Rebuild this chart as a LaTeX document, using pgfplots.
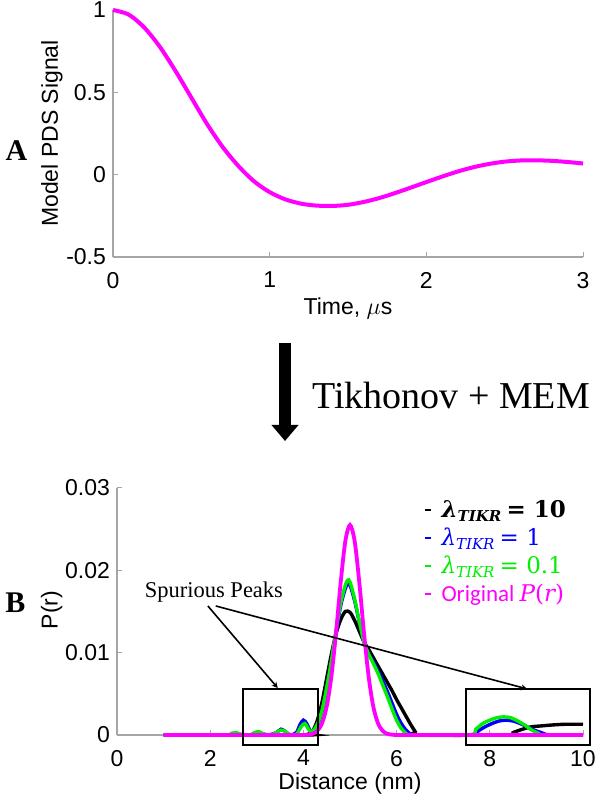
\documentclass[border=0pt]{standalone}
\usepackage{pgfplots}
\pgfplotsset{compat=1.18}
\usepackage{fontspec}
\setmainfont{Liberation Serif}
\setsansfont{Liberation Sans}
\newfontfamily\calibri{Carlito}
\newfontfamily\cmath{DejaVu Serif}
\usetikzlibrary{arrows.meta}

\definecolor{axgray}{RGB}{165,165,165}
\definecolor{mag}{RGB}{255,0,255}
\definecolor{grn}{RGB}{0,240,0}
\definecolor{blu}{RGB}{0,0,255}

% lambda_TIKR written in a Cambria-like serif
\newcommand{\lamt}{{\cmath\itshape λ}\raisebox{-0.4ex}{\cmath\itshape\fontsize{7.5}{8}\selectfont TIKR}}

\pgfplotsset{
  mlab/.style={
    scale only axis,
    axis lines=left,
    axis line style={draw=axgray, line width=0.6pt, -},
    tick align=inside,
    major tick length=2.5pt,
    tick style={draw=axgray, line width=0.5pt},
    tick label style={font=\sffamily\fontsize{11.5}{13}\selectfont},
    xticklabel style={yshift=-4pt},
    label style={font=\sffamily\fontsize{11.5}{13}\selectfont},
    clip=false,
  }
}

\pgfplotstableread{
t V
0.0 1.000
0.1 0.972
0.2 0.893
0.3 0.775
0.4 0.628
0.5 0.468
0.6 0.308
0.7 0.168
0.8 0.053
0.9 -0.040
1.0 -0.106
1.1 -0.150
1.2 -0.176
1.3 -0.188
1.4 -0.190
1.5 -0.183
1.6 -0.166
1.7 -0.142
1.8 -0.112
1.9 -0.079
2.0 -0.045
2.1 -0.012
2.2 0.019
2.3 0.045
2.4 0.065
2.5 0.079
2.6 0.086
2.7 0.087
2.8 0.084
2.9 0.077
3.0 0.068
}\signal

\pgfplotstableread{
r P
1.0 0
2.3 0
2.45 0.0001
2.55 0.0002
2.7 0
2.9 0
3.0 0.0003
3.1 0.0002
3.25 0
3.42 0.0003
3.52 0.0007
3.62 0.0004
3.72 0
3.85 0.0003
3.93 0.0013
4.0 0.0018
4.07 0.0014
4.14 0.0006
4.2 0.0005
4.3 0.0012
4.4 0.0029
4.5 0.0056
4.6 0.0088
4.7 0.0124
4.8 0.0157
4.9 0.0178
4.95 0.0183
5.0 0.0182
5.1 0.0163
5.2 0.0137
5.3 0.0113
5.4 0.0099
5.5 0.0089
5.6 0.0078
5.7 0.0066
5.8 0.0053
5.9 0.0039
6.0 0.0025
6.1 0.0014
6.2 0.0006
6.3 0.0001
6.37 0
7.6 0
7.75 0.0005
7.9 0.0010
8.05 0.0014
8.2 0.0017
8.35 0.0018
8.5 0.0017
8.65 0.0014
8.8 0.0010
8.95 0.0006
9.1 0.0003
9.3 0
10 0
}\lamone

\pgfplotstableread{
r P
1.0 0
2.3 0
2.45 0.0002
2.55 0.0003
2.7 0
2.85 0
2.95 0.0003
3.05 0.0004
3.15 0.0001
3.3 0
3.42 0.0003
3.52 0.0006
3.62 0.0004
3.72 0
3.85 0.0001
3.95 0.0010
4.03 0.0014
4.1 0.0008
4.16 0.0004
4.22 0.0006
4.3 0.0013
4.4 0.0030
4.5 0.0058
4.6 0.0090
4.7 0.0127
4.8 0.0160
4.9 0.0182
4.95 0.0188
5.0 0.0186
5.1 0.0165
5.2 0.0138
5.3 0.0113
5.4 0.0098
5.5 0.0087
5.6 0.0075
5.7 0.0061
5.8 0.0047
5.9 0.0032
6.0 0.0018
6.1 0.0008
6.2 0.0002
6.3 0
7.55 0
7.7 0.0007
7.85 0.0014
8.0 0.0018
8.15 0.0021
8.3 0.0022
8.45 0.0021
8.6 0.0017
8.75 0.0012
8.9 0.0006
9.05 0.0002
9.15 0
10 0
}\lampone

\pgfplotstableread{
r P
1.0 0
4.0 0
4.1 0.0001
4.2 0.0005
4.3 0.0018
4.4 0.0040
4.5 0.0069
4.6 0.0098
4.7 0.0123
4.8 0.0140
4.9 0.0150
5.0 0.0149
5.1 0.0139
5.2 0.0126
5.3 0.0113
5.4 0.0104
5.5 0.0094
5.6 0.0084
5.7 0.0074
5.8 0.0064
5.9 0.0054
6.0 0.0043
6.1 0.0033
6.2 0.0023
6.3 0.0013
6.4 0.0004
6.45 0
8.35 0
8.5 0.0003
8.7 0.0007
8.9 0.0010
9.1 0.0011
9.3 0.0012
9.6 0.0013
10 0.0013
}\lamten

\pgfplotstableread{
r P
1.0 0
3.8 0
3.9 0
4.0 0
4.1 0.00004
4.2 0.00015
4.3 0.00051
4.4 0.00143
4.5 0.00345
4.6 0.00709
4.7 0.01241
4.8 0.01852
4.9 0.02354
5.0 0.0255
5.1 0.02354
5.2 0.01852
5.3 0.01241
5.4 0.00709
5.5 0.00345
5.6 0.00143
5.7 0.00051
5.8 0.00015
5.9 0.00004
6.0 0
6.1 0
6.2 0
10 0
}\orig

\begin{document}
\begin{tikzpicture}
\useasboundingbox (0,0) rectangle (300pt,401.5pt);

% panel A
\begin{axis}[mlab,
    at={(56.5pt,273pt)}, anchor=south west,
    width=235pt, height=123.5pt,
    xmin=0, xmax=3, ymin=-0.5, ymax=1,
    xtick={0,1,2,3}, xticklabels={0,1,2,3},
    ytick={-0.5,0,0.5,1}, yticklabels={-0.5,0,0.5,1},
    xlabel={Time, $\mu$s},
    ylabel={Model PDS Signal},
    xlabel style={at={(axis description cs:0.5,-0.21)}, anchor=center},
    ylabel style={at={(axis description cs:-0.13,0.5)}, anchor=center},
]
\addplot[mag, line width=2pt, smooth] table[x=t, y=V] {\signal};
\end{axis}

\node[font=\bfseries\fontsize{15}{15}\selectfont] at (8.25pt,326pt) {A};

% arrow between panels
\draw[line width=6pt, -{Triangle[width=13pt, length=8pt]}] (142.5pt,230pt) -- (142.5pt,181pt);
\node[font=\fontsize{19}{22}\selectfont] at (225.5pt,203.5pt) {Tikhonov + MEM};

% panel B
\begin{axis}[mlab,
    at={(58.5pt,34pt)}, anchor=south west,
    width=233pt, height=123.5pt,
    xmin=0, xmax=10, ymin=0, ymax=0.03,
    xtick={0,2,4,6,8,10}, xticklabels={0,2,4,6,8,10},
    ytick={0,0.01,0.02,0.03}, yticklabels={0,0.01,0.02,0.03},
    scaled y ticks=false,
    xlabel={Distance (nm)},
    ylabel={P(r)},
    xlabel style={at={(axis description cs:0.5,-0.195)}, anchor=center},
    ylabel style={at={(axis description cs:-0.14,0.506)}, anchor=center},
    legend style={at={(axis description cs:0.644,0.985)}, anchor=north west,
        draw=none, fill=none, row sep=-0.2pt,
        /tikz/every odd column/.append style={column sep=3pt},
        font=\calibri\fontsize{11.5}{13}\selectfont},
    legend cell align=left,
    legend image code/.code={\draw[#1, line width=1pt] plot coordinates {(0pt,0pt) (3pt,0pt)};},
]
\addplot[black, line width=1.7pt, smooth] table[x=r, y=P] {\lamten};
\addlegendentry{\textcolor{black}{\bfseries\lamt\ {\cmath = 10}}}
\addplot[blu, line width=1.7pt, smooth] table[x=r, y=P] {\lamone};
\addlegendentry{\textcolor{blu}{\lamt\ {\cmath = 1}}}
\addplot[grn, line width=1.7pt, smooth] table[x=r, y=P] {\lampone};
\addlegendentry{\textcolor{grn}{\lamt\ {\cmath = 0.1}}}
\addplot[mag, line width=1.9pt, smooth] table[x=r, y=P] {\orig};
\addlegendentry{\textcolor{mag}{Original {\cmath\itshape P}{\cmath (}{\cmath\itshape r}{\cmath )}}}

% spurious peak call-outs
\draw[black, line width=1pt] (axis cs:2.70,-0.00121) rectangle (axis cs:4.31,0.00559);
\draw[black, line width=1pt] (axis cs:7.49,-0.00121) rectangle (axis cs:10.15,0.00559);
\node[font=\fontsize{11.25}{13}\selectfont] at (axis cs:2.08,0.01737) {Spurious Peaks};
\draw[line width=0.8pt, -{Stealth[length=3pt, width=3pt]}] (axis cs:1.95,0.01567) -- (axis cs:3.45,0.0057);
\draw[line width=0.8pt, -{Stealth[length=3pt, width=3pt]}] (axis cs:2.12,0.01567) -- (axis cs:8.80,0.0056);
\end{axis}

\node[font=\bfseries\fontsize{15}{15}\selectfont] at (7.75pt,100.25pt) {B};
\end{tikzpicture}
\end{document}
